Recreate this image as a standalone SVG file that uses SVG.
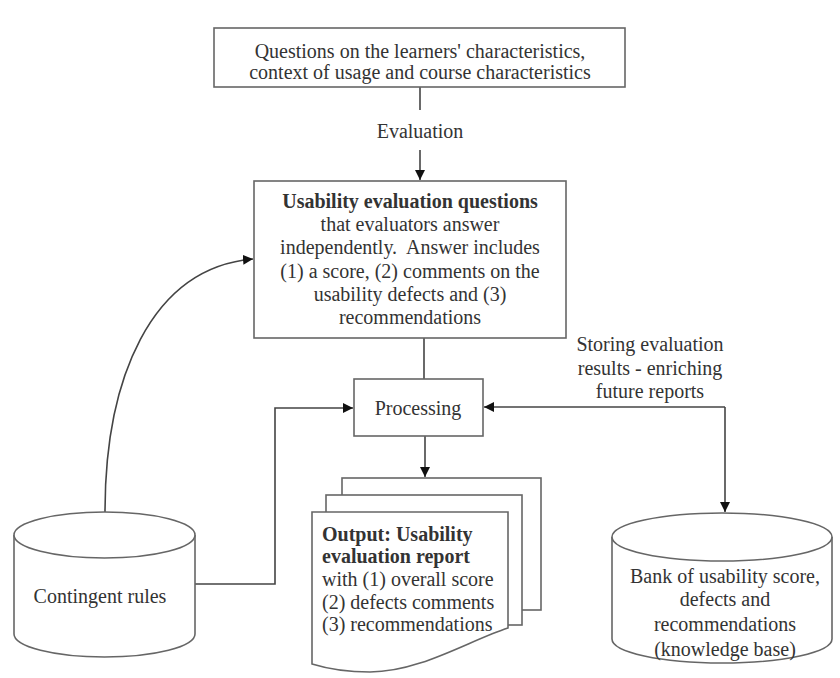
<svg xmlns="http://www.w3.org/2000/svg" width="840" height="678" viewBox="0 0 840 678">
<style>
.box{fill:#fff;stroke:#666;stroke-width:1.6}
.ln{fill:none;stroke:#444;stroke-width:1.6}
text{font-family:"Liberation Serif","Times New Roman",serif;font-size:20px;fill:#333}
.c{text-anchor:middle}
.b{font-weight:bold}
</style>
<defs>
<marker id="ah" viewBox="0 0 10 10" refX="10" refY="5" markerWidth="10" markerHeight="10" markerUnits="userSpaceOnUse" orient="auto">
<path d="M0,0 L10,5 L0,10 z" fill="#111"/>
</marker>
</defs>
<rect width="840" height="678" fill="#fff"/>
<g id="connectors">
<path class="ln" d="M420,87 V110"/>
<path class="ln" d="M420,150 V180" marker-end="url(#ah)"/>
<path class="ln" d="M424,338 V379"/>
<path class="ln" d="M425,436 V477" marker-end="url(#ah)"/>
<path class="ln" d="M195,584 H275 V408 H353" marker-end="url(#ah)"/>
<path class="ln" d="M105,512 C105,380 150,268 253,259" marker-end="url(#ah)"/>
<path class="ln" d="M725,407 H484" marker-end="url(#ah)"/>
<path class="ln" d="M725,407 V512" marker-end="url(#ah)"/>
</g>
<g id="top">
<rect class="box" x="214" y="28" width="411" height="59"/>
<text class="c" x="420" y="58">Questions on the learners' characteristics,</text>
<text class="c" x="420" y="79">context of usage and course characteristics</text>
</g>
<g id="evaluation-label">
<text class="c" x="420" y="138">Evaluation</text>
</g>
<g id="usability">
<rect class="box" x="254" y="181" width="312" height="157"/>
<text class="c b" x="410" y="208">Usability evaluation questions</text>
<text class="c" x="410" y="231">that evaluators answer</text>
<text class="c" x="410" y="254">independently.&#160; Answer includes</text>
<text class="c" x="410" y="278">(1) a score, (2) comments on the</text>
<text class="c" x="410" y="301">usability defects and (3)</text>
<text class="c" x="410" y="324">recommendations</text>
</g>
<g id="processing">
<rect class="box" x="354" y="379" width="129" height="57"/>
<text class="c" x="418" y="415">Processing</text>
</g>
<g id="output">
<rect class="box" x="342" y="478" width="199" height="132"/>
<rect class="box" x="326" y="495" width="196" height="130"/>
<path class="box" d="M312,512 H508 V628 C470,640 420,672 370,672 C345,672 325,668 312,664 Z"/>
<text class="b" x="322" y="541">Output: Usability</text>
<text class="b" x="322" y="563">evaluation report</text>
<text x="322" y="586">with (1) overall score</text>
<text x="322" y="609">(2) defects comments</text>
<text x="322" y="631">(3) recommendations</text>
</g>
<g id="contingent">
<path class="box" d="M14,535 V634 A90.5,23 0 0 0 195,634 V535"/>
<ellipse class="box" cx="104.5" cy="535" rx="90.5" ry="23"/>
<text class="c" x="100" y="603">Contingent rules</text>
</g>
<g id="storing-label">
<text class="c" x="650" y="351">Storing evaluation</text>
<text class="c" x="650" y="375">results - enriching</text>
<text class="c" x="650" y="398">future reports</text>
</g>
<g id="bank">
<path class="box" d="M612,537 V639 A110,24 0 0 0 832,639 V537"/>
<ellipse class="box" cx="722" cy="537" rx="110" ry="24"/>
<text class="c" x="725" y="583">Bank of usability score,</text>
<text class="c" x="725" y="606">defects and</text>
<text class="c" x="725" y="631">recommendations</text>
<text class="c" x="725" y="656">(knowledge base)</text>
</g>
</svg>
